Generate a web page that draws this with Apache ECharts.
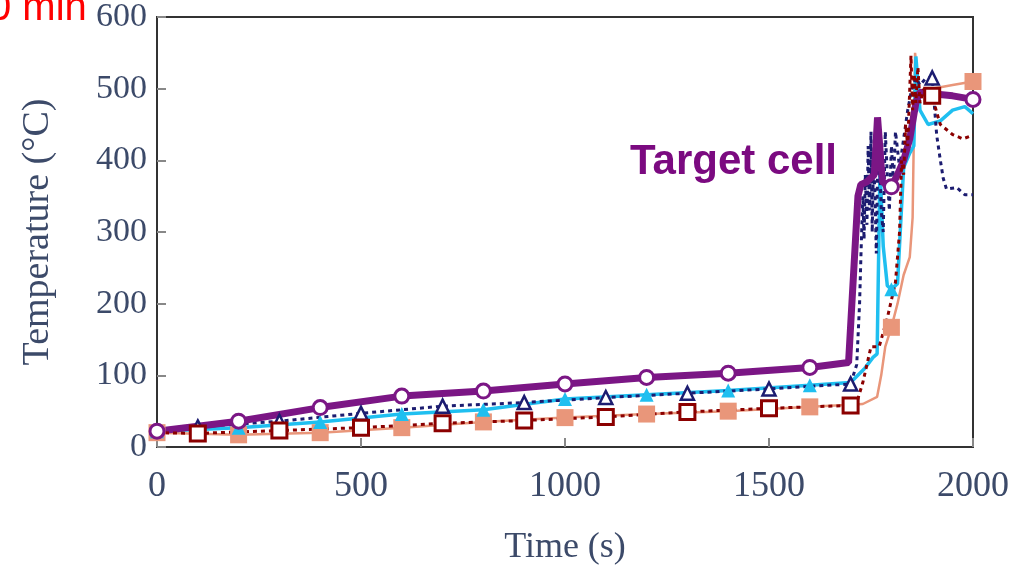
<!DOCTYPE html>
<html>
<head>
<meta charset="utf-8">
<script src="https://cdn.jsdelivr.net/npm/echarts@6/dist/echarts.min.js"></script>
<style>
html,body{margin:0;padding:0;background:#fff;}
#chart{width:1019px;height:584px;}
</style>
</head>
<body>
<div id="chart"></div>
<script>
// ---- data ----
const xTicks = [0, 500, 1000, 1500, 2000];
const yTicks = [0, 100, 200, 300, 400, 500, 600];

const purpleT = [0,200,400,600,800,1000,1200,1400,1600,1695,1718,1725,1740,1758,1766,1778,1800,1815,1830,1845,1860,1870,1900,1950,2000];
const purpleV = [22,36,55,71,78,88,97,103,111,118,350,366,370,380,460,370,363,380,400,430,480,495,493,490,485];

const navyT = [0,100,300,500,700,900,1100,1300,1500,1700,1715,1722,1726,1730,1733,1736,1740,1743,1746,1750,1753,1756,1760,1763,1766,1770,1775,1780,1785,1790,1795,1800,1805,1810,1820,1830,1840,1850,1860,1870,1885,1900,1911,1920,1927,1935,1960,1980,2000];
const navyV = [22,28,36,47,57,62,69,75,81,88,115,200,280,350,290,380,310,420,330,440,300,400,350,270,380,420,330,300,440,380,330,420,370,440,390,430,470,500,515,505,515,515,435,400,375,360,362,352,352];

const cyanT = [0,200,400,600,800,1000,1200,1400,1600,1700,1735,1755,1765,1772,1780,1790,1800,1815,1830,1845,1855,1860,1870,1890,1920,1950,1980,2000];
const cyanV = [22,27,35,46,52,67,73,79,86,90,110,125,130,390,280,225,220,228,390,410,420,545,470,450,455,470,475,465];

const salmonT = [0,200,400,600,800,1000,1200,1400,1600,1700,1730,1765,1775,1785,1800,1815,1830,1845,1852,1858,1870,1900,1950,2000];
const salmonV = [20,17,20,27,35,41,46,50,56,59,60,70,100,140,167,200,240,265,320,550,490,500,505,510];

const darkT = [0,100,300,500,700,900,1100,1300,1500,1700,1715,1730,1750,1770,1790,1810,1820,1825,1830,1835,1840,1845,1848,1852,1856,1860,1865,1870,1880,1900,1911,1920,1950,1975,2000];
const darkV = [20,19,23,27,33,37,42,49,54,58,62,90,140,140,180,230,300,400,380,450,420,500,546,470,520,480,530,480,500,490,467,450,436,430,435];

const cornerText = '0 min';
const annotText = 'Target cell';

// ---- build ----
function pairs(t, v){ return t.map((x,i)=>[x, v[i]]); }
function marks(t, v, off, maxT){ return pairs(t, v).filter(p => p[0] % 200 === off && p[0] <= maxT); }

const C = {purple:'#7b1685', navy:'#1c1c70', cyan:'#1fbff0', salmon:'#e9967a', dark:'#8b0000'};
const axisColor = '#3c4a69';
const serif = '"Liberation Serif", "DejaVu Serif", serif';

function lineS(name, data, color, width, type){
  return {name, type:'line', data, symbol:'none', smooth:false,
    lineStyle:{color, width, type: type || 'solid', cap:'butt'}, itemStyle:{color}, z:2};
}
function markS(name, data, symbol, size, fill, border, bw){
  return {name:name+'-m', type:'scatter', data, symbol, symbolSize:size,
    itemStyle:{color:fill, borderColor:border, borderWidth:bw, opacity:1}, z:3};
}

const chart = echarts.init(document.getElementById('chart'), null, {renderer:'canvas'});
chart.setOption({
  animation:false,
  backgroundColor:'#fff',
  grid:{left:157, right:46, top:14, bottom:137, show:true, borderColor:'#333', borderWidth:2, backgroundColor:'transparent'},
  xAxis:{type:'value', min:xTicks[0], max:xTicks[xTicks.length-1], interval:500,
    axisLine:{show:true, lineStyle:{color:'#333', width:2}},
    axisTick:{show:true, inside:true, length:9, lineStyle:{color:'#888', width:2}},
    splitLine:{show:false},
    axisLabel:{fontSize:36, fontFamily:serif, color:axisColor, margin:22, formatter: v => String(v)},
    name:'Time (s)', nameLocation:'middle', nameGap:83,
    nameTextStyle:{fontSize:36, fontFamily:serif, color:axisColor}},
  yAxis:{type:'value', min:yTicks[0], max:yTicks[yTicks.length-1], interval:100,
    axisLine:{show:true, lineStyle:{color:'#333', width:2}},
    axisTick:{show:true, inside:true, length:9, lineStyle:{color:'#888', width:2}},
    splitLine:{show:false},
    axisLabel:{fontSize:34, fontFamily:serif, color:axisColor, margin:10, formatter: v => String(v)},
    name:'Temperature (°C)', nameLocation:'middle', nameRotate:90, nameGap:100,
    nameTextStyle:{fontSize:38, fontFamily:serif, color:axisColor}},
  series:[
    lineS('salmon', pairs(salmonT, salmonV), C.salmon, 2.5),
    lineS('cyan', pairs(cyanT, cyanV), C.cyan, 3.5),
    lineS('navy', pairs(navyT, navyV), C.navy, 3, [4,4]),
    lineS('purple', pairs(purpleT, purpleV), C.purple, 7),
    lineS('dark', pairs(darkT, darkV), C.dark, 3, [4,4]),
    markS('salmon', marks(salmonT, salmonV, 0, 2000), 'rect', 17, C.salmon, C.salmon, 0),
    markS('cyan', marks(cyanT, cyanV, 0, 1900), 'triangle', 14, C.cyan, C.cyan, 0),
    markS('navy', marks(navyT, navyV, 100, 2000), 'triangle', 13, '#fff', C.navy, 2.5),
    markS('dark', marks(darkT, darkV, 100, 2000), 'rect', 15, '#fff', C.dark, 3),
    markS('purple', marks(purpleT, purpleV, 0, 2000), 'circle', 14, '#fff', C.purple, 3)
  ],
  graphic:[
    {type:'text', left:-11, top:-11, z:10,
      style:{text:cornerText, fill:'#ff0000', font:'40px "Liberation Sans", Arial, sans-serif'}},
    {type:'text', left:630, top:141, z:10,
      style:{text:annotText, fill:'#7b0a80', font:'bold 42px "Liberation Sans", Arial, sans-serif'}}
  ]
});
</script>
</body>
</html>
